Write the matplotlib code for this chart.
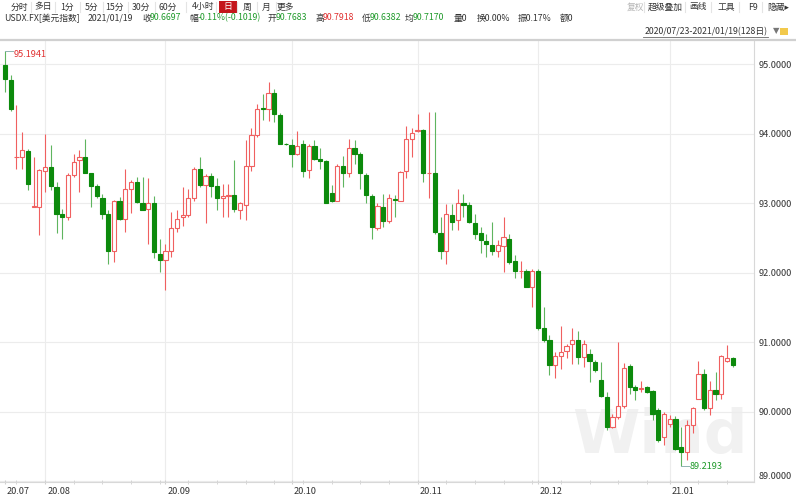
import pandas as pd
import matplotlib.pyplot as plt
import matplotlib.transforms as mtransforms

plt.rcParams['font.family'] = ['Noto Sans CJK SC', 'DejaVu Sans']

# daily USDX candles, 2020/07/23 - 2021/01/19 (128 days, Jan 1 closed)
dates = [d for d in pd.bdate_range('2020-07-23', '2021-01-19') if d != pd.Timestamp('2021-01-01')]

opens = [94.99, 94.77, 93.66, 93.66, 93.75, 92.95, 92.95, 93.46, 93.52, 93.23,
         92.85, 92.80, 93.41, 93.63, 93.66, 93.43, 93.25, 93.07, 92.84, 92.32,
         93.03, 92.77, 93.20, 93.31, 93.00, 92.92, 93.00, 92.27, 92.18, 92.32,
         92.65, 92.80, 92.83, 93.07, 93.50, 93.26, 93.40, 93.25, 93.08, 93.10,
         93.12, 92.91, 92.97, 93.53, 93.98, 94.37, 94.36, 94.59, 94.27, 93.86,
         93.84, 93.71, 93.86, 93.48, 93.83, 93.64, 93.61, 93.15, 93.04, 93.53,
         93.43, 93.79, 93.71, 93.41, 93.10, 92.65, 92.95, 92.75, 93.06, 93.04,
         93.46, 93.93, 94.04, 94.05, 93.43, 93.43, 92.58, 92.32, 92.83, 92.76,
         93.00, 92.97, 92.71, 92.58, 92.46, 92.40, 92.31, 92.38, 92.49, 92.17,
         92.02, 92.02, 91.79, 92.03, 91.20, 91.03, 90.68, 90.81, 90.88, 90.97,
         91.03, 90.79, 90.83, 90.72, 90.46, 90.22, 89.78, 89.92, 90.09, 90.66,
         90.35, 90.33, 90.36, 90.30, 90.02, 89.64, 89.83, 89.90, 89.49, 89.42,
         89.81, 90.19, 90.55, 90.05, 90.32, 90.26, 90.73, 90.7683]
highs = [95.1941, 94.84, 94.41, 94.02, 93.78, 93.67, 93.50, 94.00, 93.84, 93.31,
         92.92, 93.43, 93.71, 93.76, 93.92, 93.44, 93.28, 93.13, 92.90, 93.05,
         93.09, 93.50, 93.34, 93.38, 93.38, 93.36, 93.10, 92.48, 92.42, 92.88,
         92.90, 93.24, 93.21, 93.52, 93.66, 93.42, 93.44, 93.36, 93.28, 93.28,
         93.62, 93.02, 93.91, 94.09, 94.43, 94.58, 94.75, 94.65, 94.30, 93.87,
         93.93, 94.04, 93.91, 93.86, 93.91, 93.79, 93.62, 93.26, 93.57, 93.68,
         93.92, 93.91, 93.74, 93.44, 93.14, 93.00, 93.13, 93.13, 93.12, 93.46,
         94.11, 94.09, 94.28, 94.07, 94.31, 94.31, 92.81, 92.99, 92.99, 93.21,
         93.14, 93.02, 92.85, 92.66, 92.56, 92.73, 92.47, 92.81, 92.56, 92.25,
         92.17, 92.05, 92.05, 92.05, 91.51, 91.10, 90.86, 91.24, 90.98, 91.21,
         91.16, 91.04, 90.91, 90.74, 90.72, 90.28, 89.97, 91.00, 90.70, 90.69,
         90.38, 90.45, 90.37, 90.31, 90.05, 90.00, 89.95, 89.94, 89.78, 89.88,
         90.07, 90.73, 90.62, 90.45, 90.57, 90.82, 90.96, 90.7918]
lows = [94.60, 94.33, 93.50, 93.50, 93.19, 92.95, 92.55, 93.16, 93.19, 92.57,
        92.49, 92.76, 93.38, 93.16, 93.43, 92.95, 93.07, 92.78, 92.13, 92.16,
        92.76, 92.59, 92.86, 93.00, 92.90, 92.42, 92.21, 92.01, 91.75, 92.23,
        92.59, 92.68, 92.81, 93.04, 93.23, 92.71, 93.09, 92.90, 92.80, 92.80,
        92.87, 92.78, 92.76, 93.47, 93.95, 94.20, 94.19, 94.17, 93.86, 93.84,
        93.52, 93.69, 93.38, 93.36, 93.62, 93.50, 93.01, 93.02, 93.03, 93.23,
        93.38, 93.57, 93.21, 93.00, 92.48, 92.61, 92.66, 92.72, 92.80, 93.03,
        93.36, 93.67, 94.03, 93.31, 93.08, 92.56, 92.20, 92.13, 92.61, 92.62,
        92.80, 92.72, 92.48, 92.28, 92.23, 92.25, 92.23, 92.01, 92.13, 91.93,
        91.92, 91.79, 91.51, 91.17, 91.00, 90.53, 90.49, 90.62, 90.77, 90.69,
        90.69, 90.64, 90.43, 90.57, 90.22, 89.74, 89.76, 89.90, 90.05, 90.26,
        90.17, 90.28, 90.27, 89.88, 89.57, 89.52, 89.78, 89.45, 89.2193, 89.30,
        89.69, 90.18, 90.03, 89.95, 90.17, 90.19, 90.72, 90.6382]
closes = [94.79, 94.36, 93.67, 93.76, 93.28, 92.96, 93.48, 93.52, 93.25, 92.84,
          92.81, 93.41, 93.59, 93.67, 93.44, 93.25, 93.10, 92.85, 92.32, 93.04,
          92.77, 93.21, 93.31, 93.02, 92.91, 93.00, 92.30, 92.18, 92.32, 92.64,
          92.77, 92.83, 93.07, 93.50, 93.26, 93.40, 93.25, 93.08, 93.10, 93.12,
          92.92, 93.01, 93.53, 93.98, 94.36, 94.36, 94.59, 94.28, 93.86, 93.85,
          93.71, 93.82, 93.47, 93.83, 93.64, 93.61, 93.01, 93.04, 93.53, 93.43,
          93.79, 93.71, 93.43, 93.12, 92.66, 92.96, 92.75, 93.07, 93.05, 93.45,
          93.93, 94.01, 94.05, 93.43, 93.44, 92.59, 92.32, 92.84, 92.73, 93.00,
          92.98, 92.73, 92.56, 92.47, 92.42, 92.31, 92.40, 92.52, 92.16, 92.03,
          92.03, 91.79, 92.03, 91.20, 91.03, 90.68, 90.80, 90.86, 90.95, 91.03,
          90.79, 90.97, 90.73, 90.60, 90.23, 89.78, 89.92, 90.08, 90.63, 90.36,
          90.32, 90.34, 90.29, 89.97, 89.60, 89.97, 89.89, 89.47, 89.42, 89.81,
          90.06, 90.55, 90.05, 90.32, 90.26, 90.80, 90.77, 90.6697]

y_ticks = [89, 90, 91, 92, 93, 94, 95]
change_txt = "-0.11%(-0.1019)"
avg_price = 90.7170

W, H = 796, 499
fig = plt.figure(figsize=(W / 100, H / 100), dpi=100)

RED = '#f06060'
GREEN = '#0c8a0c'
GREEN_WICK = '#5fb55f'
DARK = '#333333'
TXT_GREEN = '#1f9a2a'
TXT_RED = '#e03030'
HSIZE = 6.3


def fx(x):
    return x / W


def fy(y):
    return 1 - y / H


def put(x, y, s, color=DARK, size=HSIZE, **kw):
    fig.text(fx(x), fy(y), s, color=color, fontsize=size, va='center', ha=kw.pop('ha', 'left'), **kw)


# ---- header rows
tabs = ["分时", "多日", "1分", "5分", "15分", "30分", "60分", "4小时", "日", "周", "月", "更多"]
tab_x = [19, 43, 67, 92, 114, 141, 168, 203, 228, 247, 266, 285]
for i, (t, x) in enumerate(zip(tabs, tab_x)):
    if t == "日":
        fig.patches.append(plt.Rectangle((fx(219), fy(13)), 18 / W, 12 / H, transform=fig.transFigure,
                                         facecolor='#c4161c', edgecolor='none'))
        put(x, 7, t, color='white', ha='center')
    else:
        put(x, 7, t, ha='center')
    if i < len(tabs) - 1:
        mid = (x + tab_x[i + 1]) / 2
        fig.add_artist(plt.Line2D([fx(mid), fx(mid)], [fy(2), fy(12)], color='#e4e4e4', lw=0.8))

menu = [("复权", 627, '#b5b5b5'), ("超级叠加", 648, DARK), ("画线", 689, DARK),
        ("工具", 717, DARK), ("F9", 748, DARK), ("隐藏▸", 767, DARK)]
for s, x, c in menu:
    put(x, 7, s, color=c)
for x in [644, 685, 711, 739, 762]:
    fig.add_artist(plt.Line2D([fx(x), fx(x)], [fy(2), fy(12)], color='#e4e4e4', lw=0.8))

last = len(closes) - 1
row2 = [("USDX.FX[美元指数]", 4, DARK), (dates[last].strftime('%Y/%m/%d'), 88, DARK),
        ("收", 142, DARK), (f"{closes[last]:.4f}", 150, TXT_GREEN),
        ("幅", 189, DARK), (change_txt, 198, TXT_GREEN),
        ("开", 268, DARK), (f"{opens[last]:.4f}", 276, TXT_GREEN),
        ("高", 315, DARK), (f"{highs[last]:.4f}", 323, TXT_RED),
        ("低", 362, DARK), (f"{lows[last]:.4f}", 370, TXT_GREEN),
        ("均", 405, DARK), (f"{avg_price:.4f}", 413, TXT_GREEN),
        ("量0", 454, DARK), ("换0.00%", 477, DARK), ("振0.17%", 518, DARK), ("额0", 560, DARK)]
for s, x, c in row2:
    put(x, 18, s, color=c)

rng = f"{dates[0].strftime('%Y/%m/%d')}-{dates[last].strftime('%Y/%m/%d')}({len(closes)}日)"
put(768, 31.5, rng, ha='right')
fig.add_artist(plt.Line2D([fx(643), fx(768)], [fy(37), fy(37)], color='#666666', lw=0.6))
put(773, 31, "▼", color='#777777', size=6, family=['DejaVu Sans'])
fig.patches.append(plt.Rectangle((fx(780), fy(35)), 8 / W, 7 / H, transform=fig.transFigure,
                                 facecolor='#f2c94c', edgecolor='none'))
fig.add_artist(plt.Line2D([0, 1], [fy(39.5), fy(39.5)], color='#d0d0d0', lw=1.6))

# ---- candle axes
ax = fig.add_axes([0, (H - 482) / H, 754 / W, (482 - 40) / H])
ax.set_xlim(-0.87, 130.7)
ax.set_ylim(88.99, 95.35)

x = list(range(len(closes)))
up = [c >= o for o, c in zip(opens, closes)]
wick_col = [RED if u else GREEN_WICK for u in up]
ax.vlines(x, lows, highs, colors=wick_col, lw=0.8, zorder=2)
bottoms = [min(o, c) for o, c in zip(opens, closes)]
heights = [max(abs(c - o), 0.008) for o, c in zip(opens, closes)]
ax.bar(x, heights, bottom=bottoms, width=0.74,
       color=['white' if u else GREEN for u in up],
       edgecolor=[RED if u else GREEN for u in up], linewidth=0.8, zorder=3)

# max / min markers
imax = highs.index(max(highs))
imin = lows.index(min(lows))
ax.plot([imax, imax + 1.4], [highs[imax], highs[imax]], color='#8fb3b0', lw=0.7, zorder=4)
ax.annotate(f"{highs[imax]:.4f}", (imax + 1.5, highs[imax]), xytext=(0, -4), textcoords='offset pixels',
            color=TXT_RED, fontsize=6.6, va='center', ha='left')
ax.plot([imin, imin + 1.3], [lows[imin], lows[imin]], color='#8fb3b0', lw=0.7, zorder=4)
ax.annotate(f"{lows[imin]:.4f}", (imin + 1.4, lows[imin]), xytext=(0, 0), textcoords='offset pixels',
            color=TXT_GREEN, fontsize=6.6, va='center', ha='left')

# watermark
ax.text(fx(660), fy(437), "Wind", transform=fig.transFigure, fontsize=44, fontweight='bold',
        family=['DejaVu Sans'], color='#f1f1f1', ha='center', va='center', zorder=0)

# grid
month_idx = [i for i in range(1, len(dates)) if dates[i].month != dates[i - 1].month]
for i in month_idx:
    ax.axvline(i, color='#ececec', lw=0.8, zorder=1)
for v in y_ticks:
    ax.axhline(v, color='#ececec', lw=0.8, zorder=1)

# axes styling
for s in ['left', 'top']:
    ax.spines[s].set_visible(False)
ax.spines['bottom'].set_color('#d8d8d8')
ax.spines['right'].set_color('#d8d8d8')

ax.yaxis.tick_right()
ax.set_yticks(y_ticks)
ax.set_yticklabels([f"{v:.4f}" for v in y_ticks])
ax.tick_params(axis='y', length=0, pad=3, labelsize=6.6, labelcolor=DARK)
ax.get_yticklabels()[0].set_va('bottom')

major = [0] + month_idx
ax.set_xticks(major)
ax.set_xticklabels([dates[i].strftime('%y.%m') for i in major])
mondays = [i for i in range(len(dates)) if dates[i].weekday() == 0 and i not in major]
ax.set_xticks(mondays, minor=True)
ax.tick_params(axis='x', which='both', direction='inout', length=3, color='#cfcfcf',
               pad=2, labelsize=6.6, labelcolor=DARK)
shift = mtransforms.ScaledTranslation(2 / 100, 0, fig.dpi_scale_trans)
for lab in ax.get_xticklabels():
    lab.set_ha('left')
    lab.set_transform(lab.get_transform() + shift)

fig.savefig('out.png', dpi=100)
